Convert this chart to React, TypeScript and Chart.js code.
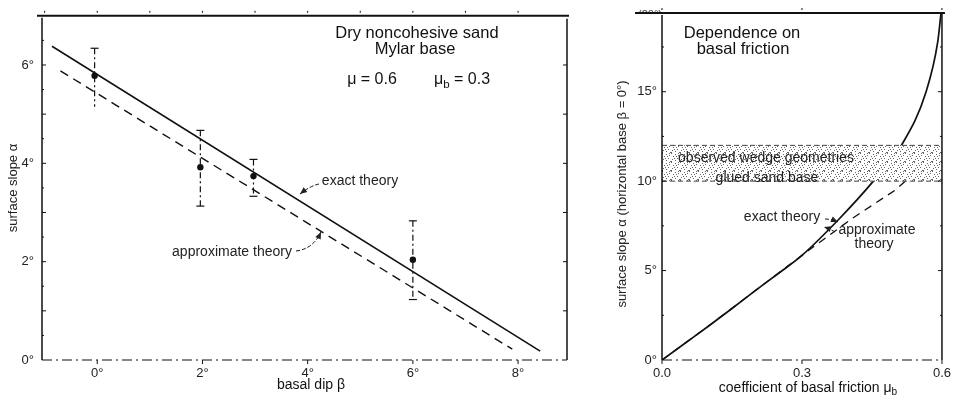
import React, { useEffect, useRef } from "react";
import { Chart, registerables } from "chart.js";
Chart.register(...registerables);

// ---------- Left panel data ----------
const basalDipTicks = [0, 2, 4, 6, 8];
const slopeTicksLeft = [0, 2, 4, 6];
const exactDip = [-0.86, 8.42];
const exactSlope = [6.38, 0.18];
const approxDip = [-0.7, 7.89];
const approxSlope = [5.88, 0.22];
const obsDip = [-0.05, 1.96, 2.97, 6.0];
const obsSlope = [5.78, 3.92, 3.74, 2.04];
const obsHigh = [6.34, 4.67, 4.08, 2.83];
const obsLow = [5.15, 3.13, 3.33, 1.23];

// ---------- Right panel data ----------
const frictionTicks = [0, 0.3, 0.6];
const slopeTicksRight = [0, 5, 10, 15];
const exactMu = [0, 0.05, 0.1, 0.15, 0.2, 0.25, 0.3, 0.379, 0.453, 0.513, 0.566, 0.591, 0.598];
const exactAlpha = [0, 0.95, 1.9, 2.88, 3.88, 4.85, 5.85, 7.87, 10, 12, 15, 17.8, 19.4];
const approxMu = [0, 0.1, 0.2, 0.3, 0.405, 0.5, 0.578];
const approxAlpha = [0, 1.9, 3.88, 5.85, 7.87, 9.5, 11.3];
const bandMu = [0, 0.6];
const bandLow = [10, 10];
const bandHigh = [12, 12];

const FONT = '"Liberation Sans", Arial, Helvetica, sans-serif';
const INK = "#111";

function pts(xs: number[], ys: number[]) {
  return xs.map((x, i) => ({ x, y: ys[i] }));
}

function makeStipple(): any {
  const c = document.createElement("canvas");
  c.width = 9;
  c.height = 9;
  const g = c.getContext("2d");
  if (!g) return "#ddd";
  g.fillStyle = "#fff";
  g.fillRect(0, 0, 9, 9);
  g.fillStyle = "#666";
  const dots = [[0, 0], [4, 1], [7, 2], [2, 3], [6, 5], [1, 6], [4, 7], [8, 8], [3, 5], [7, 0], [5, 3], [0, 8]];
  dots.forEach(([x, y]) => g.fillRect(x, y, 1, 1));
  return g.createPattern(c, "repeat") ?? "#ddd";
}

function line(ctx: CanvasRenderingContext2D, x0: number, y0: number, x1: number, y1: number) {
  ctx.beginPath();
  ctx.moveTo(x0, y0);
  ctx.lineTo(x1, y1);
  ctx.stroke();
}

function text(ctx: CanvasRenderingContext2D, s: string, x: number, y: number, size: number, color = INK, align: CanvasTextAlign = "center") {
  ctx.font = `${size}px ${FONT}`;
  ctx.fillStyle = color;
  ctx.textAlign = align;
  ctx.textBaseline = "middle";
  ctx.fillText(s, x, y);
}

// parts: [text, isSubscript]
function textSub(ctx: CanvasRenderingContext2D, parts: [string, boolean][], cx: number, y: number, size: number, color = INK) {
  ctx.textBaseline = "middle";
  ctx.textAlign = "left";
  ctx.fillStyle = color;
  let total = 0;
  parts.forEach(([s, sub]) => {
    ctx.font = `${sub ? size * 0.72 : size}px ${FONT}`;
    total += ctx.measureText(s).width;
  });
  let x = cx - total / 2;
  parts.forEach(([s, sub]) => {
    ctx.font = `${sub ? size * 0.72 : size}px ${FONT}`;
    ctx.fillText(s, x, sub ? y + size * 0.3 : y);
    x += ctx.measureText(s).width;
  });
}

function arrow(ctx: CanvasRenderingContext2D, x0: number, y0: number, cx: number, cy: number, x1: number, y1: number) {
  ctx.save();
  ctx.lineWidth = 1;
  ctx.setLineDash([4, 2]);
  ctx.beginPath();
  ctx.moveTo(x0, y0);
  ctx.quadraticCurveTo(cx, cy, x1, y1);
  ctx.stroke();
  ctx.setLineDash([]);
  const ang = Math.atan2(y1 - cy, x1 - cx);
  const L = 7, W = 3;
  ctx.beginPath();
  ctx.moveTo(x1, y1);
  ctx.lineTo(x1 - L * Math.cos(ang) + W * Math.sin(ang), y1 - L * Math.sin(ang) - W * Math.cos(ang));
  ctx.lineTo(x1 - L * Math.cos(ang) - W * Math.sin(ang), y1 - L * Math.sin(ang) + W * Math.cos(ang));
  ctx.closePath();
  ctx.fill();
  ctx.restore();
}

function rotText(ctx: CanvasRenderingContext2D, s: string, x: number, y: number, size: number) {
  ctx.save();
  ctx.translate(x, y);
  ctx.rotate(-Math.PI / 2);
  text(ctx, s, 0, 0, size, "#222");
  ctx.restore();
}

function axisScales(xMin: number, xMax: number, xTicks: number[], xFmt: (v: number) => string,
  yMin: number, yMax: number, yTicks: number[], yWidth: number, yPad: number) {
  return {
    x: {
      type: "linear",
      min: xMin,
      max: xMax,
      grid: { display: false, drawTicks: false },
      border: { display: false },
      afterBuildTicks: (s: any) => { s.ticks = xTicks.map((v) => ({ value: v })); },
      afterFit: (s: any) => { s.height = 37; },
      ticks: { padding: 6, autoSkip: false, maxRotation: 0, color: "#222", font: { family: FONT, size: 13 }, callback: (v: any) => xFmt(Number(v)) },
    },
    y: {
      type: "linear",
      min: yMin,
      max: yMax,
      grid: { display: false, drawTicks: false },
      border: { display: false },
      afterBuildTicks: (s: any) => { s.ticks = yTicks.map((v) => ({ value: v })); },
      afterFit: (s: any) => { s.width = yWidth; },
      ticks: { padding: yPad, autoSkip: false, color: "#222", font: { family: FONT, size: 13 }, callback: (v: any) => `${v}°` },
    },
  };
}

const leftPlugin = {
  id: "leftDecor",
  afterDatasetsDraw(chart: any) {
    const ctx: CanvasRenderingContext2D = chart.ctx;
    const { left, right, top, bottom } = chart.chartArea;
    const x = chart.scales.x, y = chart.scales.y;
    ctx.save();
    ctx.strokeStyle = INK;
    ctx.fillStyle = INK;
    // frame
    ctx.lineWidth = 2;
    line(ctx, left - 5, top, right + 2, top);
    ctx.lineWidth = 1.5;
    line(ctx, left, top + 2, left, bottom);
    line(ctx, right, top + 3, right, bottom);
    ctx.lineWidth = 1.2;
    ctx.setLineDash([10, 4, 2, 4]);
    line(ctx, left, bottom, right, bottom);
    ctx.setLineDash([]);
    ctx.lineWidth = 1;
    for (let v = 0.5; v < 7; v += 0.5) {
      const py = y.getPixelForValue(v);
      line(ctx, left, py, left + (v % 1 === 0 ? 4 : 2), py);
      if (v % 1 === 0) line(ctx, right, py, right - 4, py);
    }
    basalDipTicks.forEach((v) => {
      const px = x.getPixelForValue(v);
      line(ctx, px, bottom, px, bottom + 4);
    });
    for (let v = -1; v <= 8; v++) {
      const px = x.getPixelForValue(v);
      line(ctx, px, top - 5, px, top - 3);
    }
    // error bars
    ctx.lineWidth = 1.2;
    obsDip.forEach((d, i) => {
      const px = x.getPixelForValue(d);
      const yh = y.getPixelForValue(obsHigh[i]);
      const yl = y.getPixelForValue(obsLow[i]);
      ctx.setLineDash([6, 3, 2, 3]);
      line(ctx, px, yh, px, yl);
      ctx.setLineDash([]);
      line(ctx, px - 4, yh, px + 4, yh);
      if (i > 0) line(ctx, px - 4, yl, px + 4, yl);
    });
    // texts
    text(ctx, "Dry noncohesive sand", 417, 33, 16.5);
    text(ctx, "Mylar base", 415, 49, 16.5);
    textSub(ctx, [["μ = 0.6", false]], 372, 80, 16);
    textSub(ctx, [["μ", false], ["b", true], [" = 0.3", false]], 462, 80, 16);
    text(ctx, "exact theory", 360, 181, 14, "#222");
    text(ctx, "approximate theory", 232, 252, 14, "#222");
    arrow(ctx, 319, 184, 310, 186, 300, 194);
    arrow(ctx, 296, 251, 313, 249, 321, 232);
    text(ctx, "basal dip β", 311, 385, 14);
    rotText(ctx, "surface slope α", 13, 188, 13);
    ctx.restore();
  },
};

const OFF = 590;
const rightPlugin = {
  id: "rightDecor",
  afterDatasetsDraw(chart: any) {
    const ctx: CanvasRenderingContext2D = chart.ctx;
    const { left, right, top, bottom } = chart.chartArea;
    const x = chart.scales.x, y = chart.scales.y;
    ctx.save();
    ctx.strokeStyle = INK;
    ctx.fillStyle = INK;
    ctx.lineWidth = 2;
    line(ctx, left - 27, top, right + 3, top);
    ctx.lineWidth = 1.5;
    line(ctx, left, top + 2, left, bottom);
    line(ctx, right, top, right, bottom);
    ctx.lineWidth = 1.2;
    ctx.setLineDash([10, 4, 2, 4]);
    line(ctx, left, bottom, right, bottom);
    ctx.setLineDash([]);
    ctx.lineWidth = 1;
    for (let v = 2.5; v < 19; v += 2.5) {
      const py = y.getPixelForValue(v);
      line(ctx, left, py, left + (v % 5 === 0 ? 4 : 2), py);
      line(ctx, right, py, right - (v % 5 === 0 ? 4 : 2), py);
    }
    frictionTicks.forEach((v) => {
      const px = x.getPixelForValue(v);
      line(ctx, px, bottom, px, bottom + 4);
      line(ctx, px, top - 5, px, top - 3);
    });
    // clipped top label
    ctx.save();
    ctx.beginPath();
    ctx.rect(0, 0, left, top - 1);
    ctx.clip();
    text(ctx, "(20°)", left - 12, top + 2, 11, "#444");
    ctx.restore();
    // texts
    text(ctx, "Dependence on", 742 - OFF, 33, 16.5);
    text(ctx, "basal friction", 743 - OFF, 49, 16.5);
    text(ctx, "observed wedge geometries", 766 - OFF, 158, 14, "#222");
    text(ctx, "glued sand base", 767 - OFF, 178, 14, "#222");
    text(ctx, "exact theory", 782 - OFF, 217, 14, "#222");
    arrow(ctx, 825 - OFF, 219, 831 - OFF, 219, 838 - OFF, 222);
    text(ctx, "approximate", 877 - OFF, 230, 14, "#222");
    text(ctx, "theory", 874 - OFF, 244, 14, "#222");
    arrow(ctx, 835 - OFF, 232, 830 - OFF, 229, 824 - OFF, 227);
    textSub(ctx, [["coefficient of basal friction μ", false], ["b", true]], 808 - OFF, 388, 14);
    rotText(ctx, "surface slope α (horizontal base β = 0°)", 622 - OFF, 194, 13);
    ctx.restore();
  },
};

export default function App() {
  const leftRef = useRef<HTMLCanvasElement>(null);
  const rightRef = useRef<HTMLCanvasElement>(null);

  useEffect(() => {
    if (!leftRef.current || !rightRef.current) return;
    const base = {
      animation: false,
      responsive: false,
      maintainAspectRatio: false,
      devicePixelRatio: 1,
      plugins: { legend: { display: false }, tooltip: { enabled: false }, title: { display: false } },
    };
    const left = new Chart(leftRef.current, {
      type: "line",
      data: {
        datasets: [
          { data: pts(exactDip, exactSlope), borderColor: INK, borderWidth: 1.6, pointRadius: 0, fill: false },
          { data: pts(approxDip, approxSlope), borderColor: INK, borderWidth: 1.4, borderDash: [9, 6], pointRadius: 0, fill: false },
          { data: pts(obsDip, obsSlope), showLine: false, pointRadius: 3.2, pointBackgroundColor: INK, pointBorderColor: INK, borderWidth: 0 },
        ],
      },
      options: {
        ...base,
        layout: { padding: { left: 0, right: 23, top: 13, bottom: 0 } },
        scales: axisScales(-1.05, 8.93, basalDipTicks, (v) => `${v}°`, 0, 7, slopeTicksLeft, 42, 8),
      } as any,
      plugins: [leftPlugin],
    } as any);

    const stipple = makeStipple();
    const right = new Chart(rightRef.current, {
      type: "line",
      data: {
        datasets: [
          { data: pts(bandMu, bandLow), borderColor: "#444", borderWidth: 1, borderDash: [5, 3], pointRadius: 0, fill: false },
          { data: pts(bandMu, bandHigh), borderColor: "#444", borderWidth: 1, borderDash: [5, 3], pointRadius: 0, fill: "-1", backgroundColor: stipple },
          { data: pts(approxMu, approxAlpha), borderColor: INK, borderWidth: 1.3, borderDash: [8, 6], pointRadius: 0, fill: false },
          { data: pts(exactMu, exactAlpha), borderColor: INK, borderWidth: 1.7, pointRadius: 0, fill: false, cubicInterpolationMode: "monotone" },
        ],
      },
      options: {
        ...base,
        layout: { padding: { left: 0, right: 13, top: 13, bottom: 0 } },
        scales: axisScales(0, 0.6, frictionTicks, (v) => v.toFixed(1), 0, 19.4, slopeTicksRight, 72, 5),
      } as any,
      plugins: [rightPlugin],
    } as any);

    return () => {
      left.destroy();
      right.destroy();
    };
  }, []);

  return (
    <div style={{ position: "fixed", left: 0, top: 0, width: 957, height: 397, background: "#fff", display: "flex" }}>
      <canvas ref={leftRef} width={590} height={397} style={{ display: "block", width: 590, height: 397 }} />
      <canvas ref={rightRef} width={367} height={397} style={{ display: "block", width: 367, height: 397 }} />
    </div>
  );
}
